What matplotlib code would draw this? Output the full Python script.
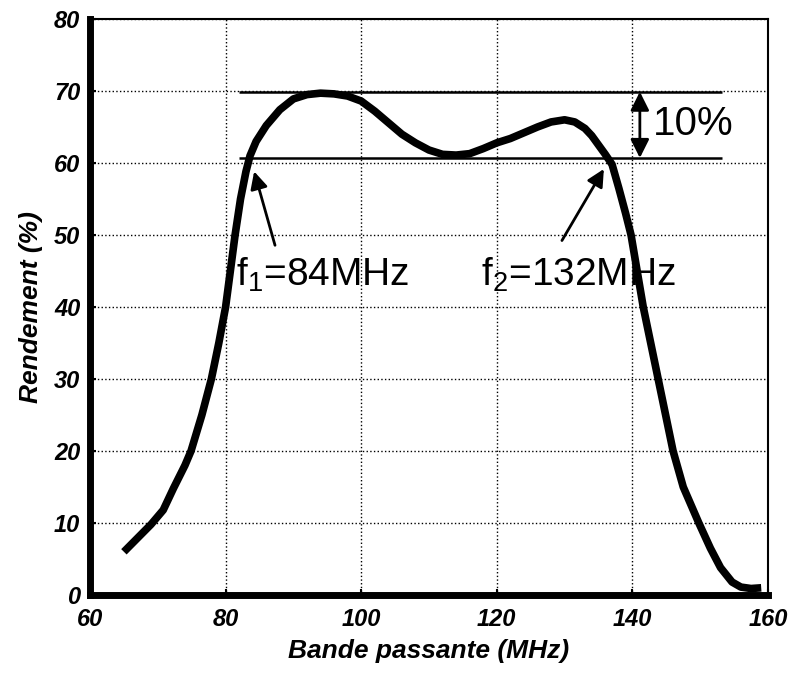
import matplotlib.pyplot as plt

plt.rcParams['font.family'] = ['Liberation Sans', 'DejaVu Sans']
plt.rcParams['mathtext.fontset'] = 'custom'
plt.rcParams['mathtext.rm'] = 'Liberation Sans'
plt.rcParams['mathtext.it'] = 'Liberation Sans:italic'

freq = [65.0, 67.0, 69.0, 70.8, 72.3, 74.0, 74.9, 76.5, 77.9, 79.0, 80.0, 80.7,
        81.4, 82.2, 83.0, 83.6, 84.5, 86.0, 88.0, 90.0, 92.0, 94.0, 96.0, 98.0,
        100.0, 102.0, 104.0, 106.0, 108.0, 110.0, 112.0, 114.0, 116.0, 118.0,
        120.0, 122.0, 124.0, 126.0, 128.0, 130.0, 131.5, 133.0, 134.0, 135.0,
        136.0, 137.0, 138.0, 139.0, 139.8, 140.7, 141.6, 142.7, 143.8, 144.9,
        146.0, 147.5, 149.8, 151.5, 153.0, 154.7, 156.0, 157.5, 159.0]
rendement = [6.0, 7.9, 9.8, 11.8, 14.8, 18.0, 20.0, 25.0, 30.0, 35.0, 40.0, 45.0,
             50.0, 55.0, 58.8, 61.0, 63.0, 65.2, 67.4, 68.9, 69.5, 69.7, 69.6, 69.3,
             68.6, 67.2, 65.6, 64.0, 62.8, 61.8, 61.2, 61.1, 61.3, 62.0,
             62.8, 63.4, 64.2, 65.0, 65.7, 66.0, 65.7, 64.8, 63.8, 62.5,
             61.2, 59.8, 56.5, 53.0, 50.0, 45.0, 40.0, 35.0, 30.0, 25.0,
             20.0, 15.0, 10.0, 6.5, 3.8, 1.8, 1.1, 0.9, 1.0]

level_hi = 69.9
level_lo = 60.7
level_x = [82.0, 153.2]

fig = plt.figure(figsize=(7.98, 6.73), dpi=100)
ax = fig.add_axes([90 / 798, 1 - 595 / 673, 678 / 798, 576 / 673])

ax.plot(freq, rendement, color='black', lw=5.5, solid_capstyle='butt', zorder=3)
ax.hlines([level_hi, level_lo], level_x[0], level_x[1], color='black', lw=1.8, zorder=2)

ax.set_xlim(60, 160)
ax.set_ylim(0, 80)
ax.set_xticks(range(60, 161, 20))
ax.set_yticks(range(0, 81, 10))
ax.grid(True, linestyle=':', color='black', lw=1)
ax.tick_params(direction='in', length=4, width=1.5, labelsize=17)
ax.tick_params(axis='x', pad=9)
ax.tick_params(axis='y', pad=7)
for lab in ax.get_xticklabels() + ax.get_yticklabels():
    lab.set_fontweight('bold')
    lab.set_fontstyle('italic')

for side in ['left', 'bottom']:
    ax.spines[side].set_linewidth(5)
for side in ['top', 'right']:
    ax.spines[side].set_linewidth(1.5)

ax.set_xlabel('Bande passante (MHz)', fontsize=19, fontweight='bold', style='italic', labelpad=6)
ax.set_ylabel('Rendement (%)', fontsize=19, fontweight='bold', style='italic', labelpad=8)

arrow = dict(arrowstyle='-|>', color='black', lw=2, mutation_scale=26)
ax.annotate('', xy=(84.1, 59.2), xytext=(87.4, 48.2), arrowprops=arrow)
ax.annotate('', xy=(136.0, 59.5), xytext=(129.4, 48.9), arrowprops=arrow)
ax.text(81.6, 44.4, r'f$_\mathregular{1}$=84MHz', fontsize=28, va='center', ha='left')
ax.text(117.7, 44.4, r'f$_\mathregular{2}$=132MHz', fontsize=28, va='center', ha='left')

ax.annotate('', xy=(141.1, level_hi), xytext=(141.1, level_lo),
            arrowprops=dict(arrowstyle='<|-|>', color='black', lw=2, mutation_scale=28,
                            shrinkA=0, shrinkB=0))
ax.text(143.0, 65.4, '10%', fontsize=29, va='center', ha='left')

fig.savefig('out.png', dpi=100)
